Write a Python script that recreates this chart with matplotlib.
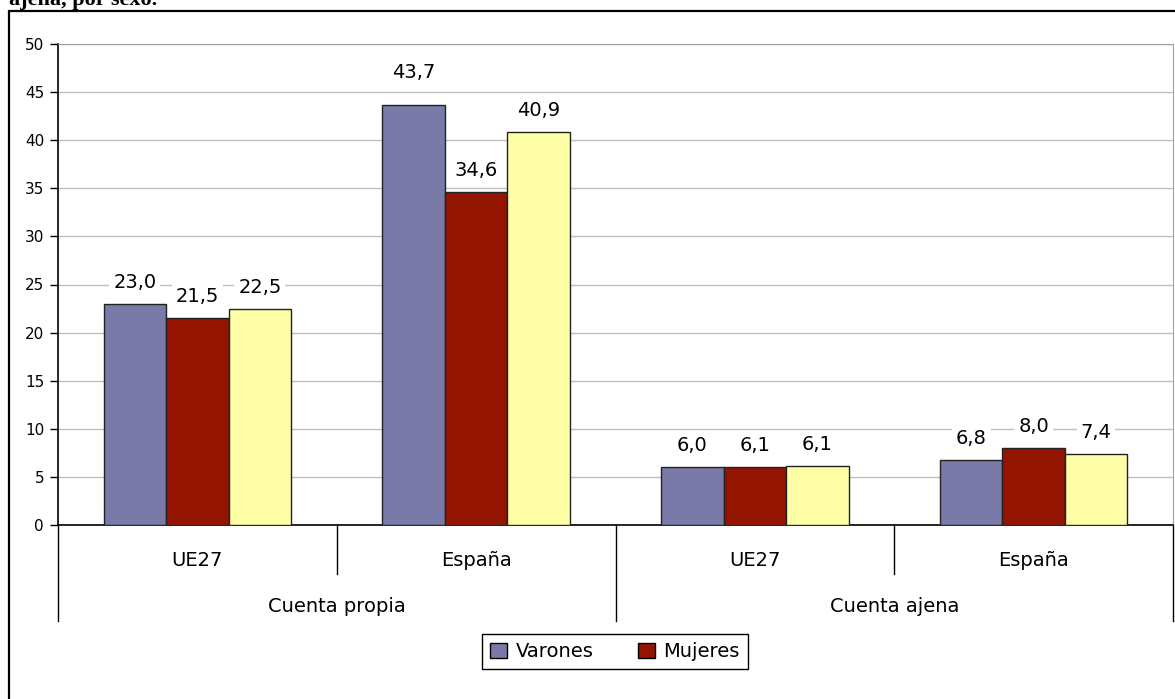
import matplotlib.pyplot as plt
from matplotlib.patches import Rectangle, Patch
from matplotlib.transforms import blended_transform_factory

# values
regions = ['UE27', 'España', 'UE27', 'España']
groups = ['Cuenta propia', 'Cuenta ajena']
series = ['Varones', 'Mujeres', 'Total']
varones = [23.0, 43.7, 6.0, 6.8]
mujeres = [21.5, 34.6, 6.0, 8.0]
total = [22.5, 40.9, 6.1, 7.4]
labels_mujeres = ['21,5', '34,6', '6,1', '8,0']
colors = ['#7a7aa8', '#931400', '#ffffa8']

plt.rcParams['font.family'] = ['DejaVu Sans']

fig = plt.figure(figsize=(11.75, 6.99), dpi=100)
ax = fig.add_axes([58 / 1175, 1 - 525 / 699, (1173 - 58) / 1175, (525 - 44) / 699])

w = 0.224
x = list(range(len(regions)))
data = [varones, mujeres, total]
for i, (vals, col) in enumerate(zip(data, colors)):
    pos = [xi + (i - 1) * w for xi in x]
    ax.bar(pos, vals, width=w, color=col, edgecolor='#222222', linewidth=1, zorder=3)
    for p, v, k in zip(pos, vals, range(len(vals))):
        txt = labels_mujeres[k] if i == 1 else f'{v:.1f}'.replace('.', ',')
        # the tallest label sits a little higher in the original
        dy = 19 if v > 43 else 11.5
        ax.annotate(txt, (p, v), xytext=(0, dy), textcoords='offset points',
                    ha='center', va='baseline', fontsize=14, zorder=4,
                    bbox=dict(boxstyle='square,pad=0.2', fc='white', ec='none'))

ax.set_xlim(-0.5, 3.5)
ax.set_ylim(0, 50)
ax.set_yticks(range(0, 51, 5))
ax.tick_params(axis='y', labelsize=11, length=6, width=1, direction='out', pad=4)
ax.set_xticks([])
ax.yaxis.grid(True, color='#c0c0c0', linewidth=1, zorder=0)
ax.set_axisbelow(True)
for s in ['top', 'right']:
    ax.spines[s].set_color('#a0a0a0')
for s in ['left', 'bottom']:
    ax.spines[s].set_color('black')
    ax.spines[s].set_linewidth(1.2)

# two-level category axis
tr = blended_transform_factory(ax.transData, fig.transFigure)
for xb in [-0.5, 1.5, 3.5]:
    ax.plot([xb, xb], [1 - 525 / 699, 1 - 621 / 699], color='black', lw=1,
            transform=tr, clip_on=False)
for xb in [0.5, 2.5]:
    ax.plot([xb, xb], [1 - 525 / 699, 1 - 574 / 699], color='black', lw=1,
            transform=tr, clip_on=False)
for xi, r in zip(x, regions):
    ax.text(xi, 1 - 560 / 699, r, transform=tr, ha='center', va='center', fontsize=14)
for gi, g in enumerate(groups):
    ax.text(gi * 2 + 0.5, 1 - 607 / 699, g, transform=tr, ha='center', va='center', fontsize=14)

# legend
handles = [Patch(facecolor=c, edgecolor='black', linewidth=1) for c in colors[:2]]
leg = fig.legend(handles, series[:2], loc='center', bbox_to_anchor=(615 / 1175, 1 - 651.5 / 699),
                 ncol=2, fontsize=14, frameon=True, fancybox=False, edgecolor='black',
                 framealpha=1, handlelength=0.85, handleheight=0.85, columnspacing=2.3,
                 borderpad=0.4, handletextpad=0.45, borderaxespad=0)
leg.get_frame().set_linewidth(1)

# outer frame and clipped title
fig.patches.append(Rectangle((9 / 1175, -0.05), 1.2, 1 - 11 / 699 + 0.05,
                             transform=fig.transFigure, fill=False, ec='black', lw=1.6))
fig.text(9 / 1175, 1 - 5 / 699, 'ajena, por sexo.', fontsize=16, fontweight='bold',
         family='Liberation Serif', ha='left', va='baseline')

fig.savefig('out.png', dpi=100)
